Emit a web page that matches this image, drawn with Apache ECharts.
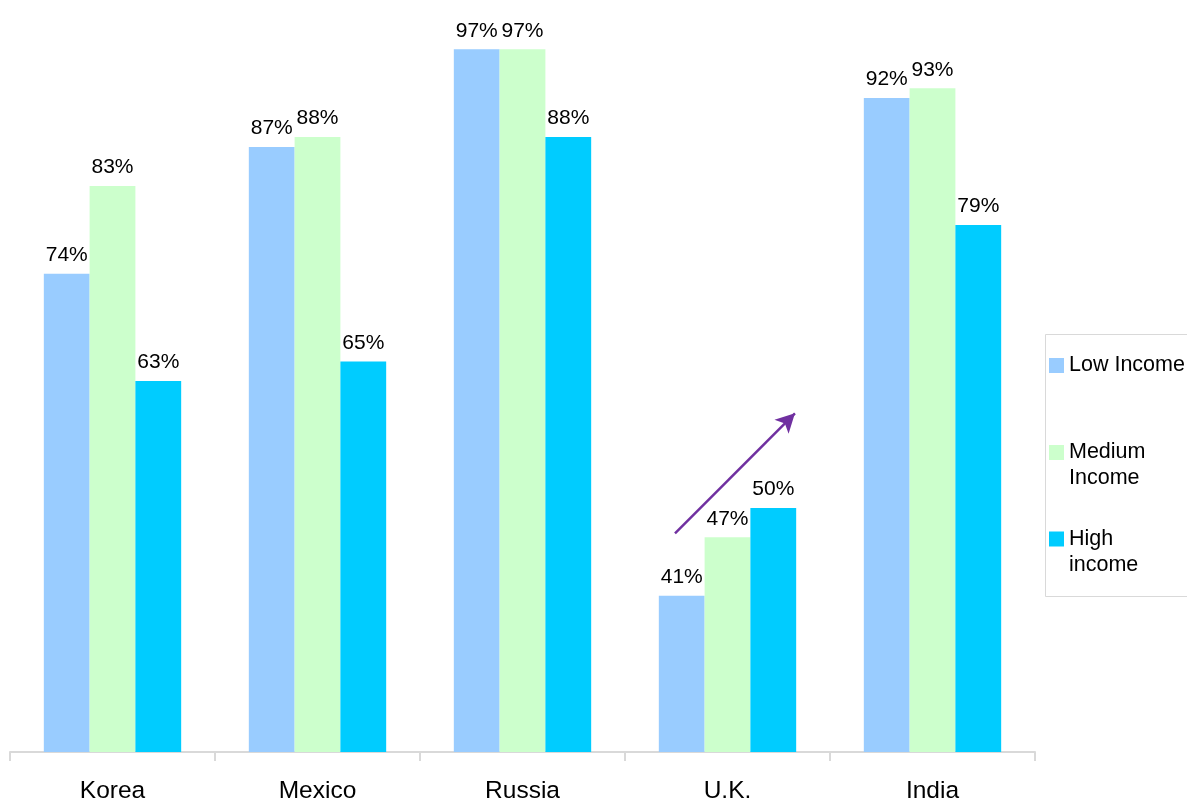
<!DOCTYPE html>
<html>
<head>
<meta charset="utf-8">
<script src="https://cdn.jsdelivr.net/npm/echarts@6/dist/echarts.min.js"></script>
<style>
  html, body { margin: 0; padding: 0; background: #ffffff; }
  #chart { width: 1187px; height: 804px; }
</style>
</head>
<body>
<div id="chart"></div>
<script>
// Countries on the category axis
const countries = ['Korea', 'Mexico', 'Russia', 'U.K.', 'India'];

// Share (%) per income group
const lowIncome = [74, 87, 97, 41, 92];
const mediumIncome = [83, 88, 97, 47, 93];
const highIncome = [63, 65, 88, 50, 79];

// Trend arrow over the U.K. group, in (category position, %) space
const trendArrow = [[3.244, 47.4], [3.829, 59.7]];

const seriesNames = ['Low Income', 'Medium Income', 'High income'];
const seriesColors = ['#99CCFF', '#CCFFCC', '#00CCFF'];
const seriesValues = [lowIncome, mediumIncome, highIncome];

const FONT = '"Liberation Sans", Arial, Helvetica, sans-serif';

const chart = echarts.init(document.getElementById('chart'), null, { renderer: 'canvas' });

const barSeries = seriesNames.map((name, i) => ({
  name: name,
  type: 'bar',
  xAxisIndex: 0,
  yAxisIndex: 0,
  data: seriesValues[i],
  barGap: '0%',
  barCategoryGap: '33%',
  itemStyle: { color: seriesColors[i] },
  label: {
    show: true,
    position: 'top',
    distance: 8,
    formatter: '{c}%',
    color: '#000000',
    fontFamily: FONT,
    fontSize: 21
  },
  emphasis: { disabled: true },
  animation: false
}));

// Legend entries: one block each so the swatch sits beside the first text line
function legendBlock(name, top, text) {
  return {
    data: [{ name: name, icon: 'rect' }],
    orient: 'vertical',
    left: 1049,
    top: top,
    padding: 0,
    itemWidth: 15,
    itemHeight: 15,
    itemGap: 0,
    selectedMode: false,
    formatter: () => text,
    textStyle: {
      color: '#000000',
      fontFamily: FONT,
      fontSize: 21.5,
      lineHeight: 26
    }
  };
}

const option = {
  backgroundColor: '#ffffff',
  animation: false,
  grid: {
    left: 10,
    right: 152,
    top: 20,
    bottom: 52,
    containLabel: false
  },
  xAxis: [
    {
      type: 'category',
      data: countries,
      boundaryGap: true,
      axisLine: { show: true, lineStyle: { color: '#d9d9d9', width: 2 } },
      axisTick: { show: true, length: 9, lineStyle: { color: '#d9d9d9', width: 2 } },
      axisLabel: {
        color: '#000000',
        fontFamily: FONT,
        fontSize: 24.5,
        margin: 27
      },
      splitLine: { show: false }
    },
    {
      type: 'value',
      min: 0,
      max: 5,
      show: false
    }
  ],
  yAxis: {
    type: 'value',
    min: 25,
    max: 100,
    show: false,
    splitLine: { show: false }
  },
  legend: [
    legendBlock('Low Income', 352.5, 'Low Income'),
    legendBlock('Medium Income', 413.5, ' \nMedium\nIncome'),
    legendBlock('High income', 500, ' \nHigh\nincome')
  ],
  graphic: [
    {
      type: 'rect',
      left: 1043,
      top: 332,
      shape: { width: 160, height: 262 },
      style: { fill: 'none', stroke: '#d9d9d9', lineWidth: 1 },
      silent: true
    }
  ],
  series: barSeries.concat([
    {
      type: 'line',
      xAxisIndex: 1,
      yAxisIndex: 0,
      data: [],
      silent: true,
      markLine: {
        silent: true,
        animation: false,
        symbol: ['none', 'arrow'],
        symbolSize: [15, 19],
        label: { show: false },
        lineStyle: { color: '#7030A0', width: 2.5, type: 'solid' },
        data: [[{ coord: trendArrow[0] }, { coord: trendArrow[1] }]]
      }
    }
  ])
};

chart.setOption(option);
</script>
</body>
</html>
